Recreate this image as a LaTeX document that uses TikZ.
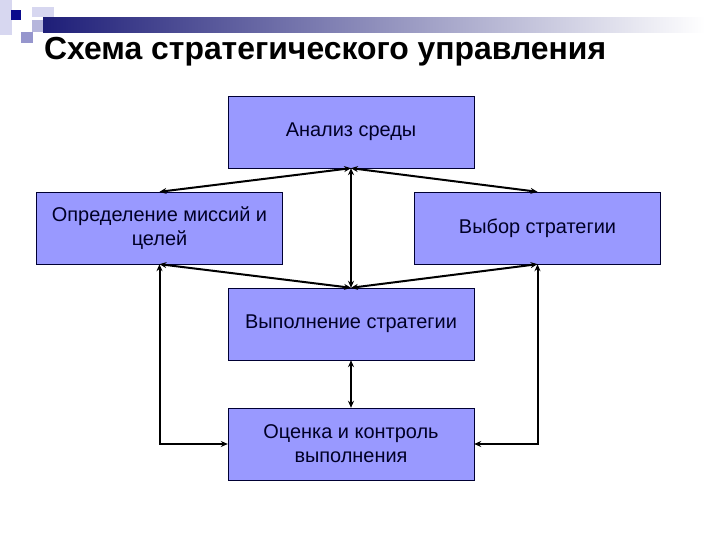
\documentclass[tikz,border=0pt]{standalone}
\usepackage{fontspec}
\setmainfont{Liberation Sans}
\usepackage{xcolor}
\usetikzlibrary{arrows.meta, positioning}
\definecolor{boxblue}{RGB}{153,153,255}
\definecolor{barnavy}{RGB}{30,30,120}
\definecolor{sqdark}{RGB}{10,10,140}
\definecolor{sqlight}{RGB}{215,215,240}
\definecolor{sqmid}{RGB}{150,150,205}

\begin{document}
\begin{tikzpicture}[
    x=1bp, y=1bp,
    stage/.style={rectangle, draw=black!80!blue, fill=boxblue, minimum width=246bp, minimum height=72bp, align=center, font=\fontsize{20}{24}\selectfont, text=black!85!blue, inner sep=2pt},
    arrow/.style={<->, >={Stealth[length=7bp, width=6bp]}, line width=2bp}
]
\useasboundingbox (0,0) rectangle (720,540);

% top decoration
\fill[sqlight] (0,505) rectangle (12,540);
\fill[sqlight] (32,523) rectangle (54,533);
\fill[sqmid!70] (32,508) rectangle (43,520);
\shade[left color=barnavy, right color=white] (43,507) rectangle (705,522);
\fill[sqdark] (11,520) rectangle (21,530);
\fill[sqmid] (21,497) rectangle (33,508);

\node[anchor=base west, inner sep=0pt, font=\fontsize{32}{36}\selectfont\bfseries] (title) at (44,480) {Схема стратегического управления};

\node[stage] (analiz) at (351,408) {Анализ среды};
\node[stage] (missiya) at (159.5,312) {Определение миссий и\\целей};
\node[stage] (vybor) at (537.5,312) {Выбор стратегии};
\node[stage] (vypoln) at (351,216) {Выполнение стратегии};
\node[stage] (ocenka) at (351,96) {Оценка и контроль\\выполнения};

\draw[arrow] (analiz.south) -- (missiya.north);
\draw[arrow] (analiz.south) -- (vybor.north);
\draw[arrow] (analiz.south) -- (vypoln.north);
\draw[arrow] (missiya.south) -- (vypoln.north);
\draw[arrow] (vybor.south) -- (vypoln.north);
\draw[arrow] (vypoln.south) -- (ocenka.north);
\draw[arrow] (ocenka.west) -| (missiya.south);
\draw[arrow] (ocenka.east) -| (vybor.south);

\end{tikzpicture}
\end{document}
